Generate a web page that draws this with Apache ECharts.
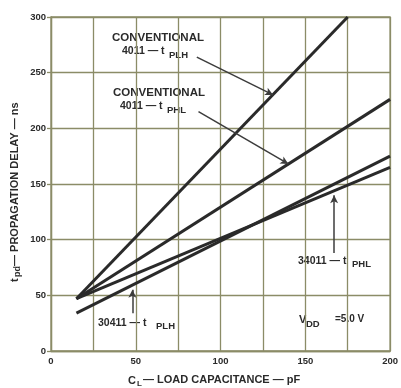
<!DOCTYPE html>
<html>
<head>
<meta charset="utf-8">
<script src="https://cdn.jsdelivr.net/npm/echarts@6/dist/echarts.min.js"></script>
<style>
  html, body { margin: 0; padding: 0; background: #ffffff; }
  #chart { width: 401px; height: 388px; }
</style>
</head>
<body>
<div id="chart"></div>
<script>
// Propagation delay vs. load capacitance, VDD = 5.0 V
// Each series: [load capacitance (pF), delay (ns)]
const conv4011PLH = [[15, 47], [175, 300]];
const conv4011PHL = [[15, 47], [200, 226]];
const mc34011PHL  = [[15, 47], [200, 165]];
const mc30411PLH  = [[15, 34], [200, 175]];

const xTickLabels = [0, 50, 100, 150, 200];
const yTickLabels = [0, 50, 100, 150, 200, 250, 300];

const GRID = '#8b8c67';
const INK = '#2a2a2a';
const LEADER = '#3c3c3c';
const FONT = '"Liberation Sans", Arial, sans-serif';

function text(x, y, s, size, extra) {
  return {
    type: 'text', x: x, y: y, silent: true,
    style: Object.assign({
      text: s, fill: INK, fontSize: size, fontWeight: 'bold',
      fontFamily: FONT, align: 'left', verticalAlign: 'middle'
    }, extra || {})
  };
}

function curve(name, data, arrows) {
  return {
    name: name, type: 'line', data: data,
    symbol: 'none', clip: true, animation: false, silent: true,
    lineStyle: { color: INK, width: 3 },
    markLine: {
      silent: true, animation: false,
      symbol: ['none', 'arrow'], symbolSize: [6, 8],
      label: { show: false },
      lineStyle: { color: LEADER, width: 1.5, type: 'solid' },
      data: arrows.map(a => [{ coord: a[0] }, { coord: a[1] }])
    }
  };
}

const chart = echarts.init(document.getElementById('chart'), null, { renderer: 'canvas' });

chart.setOption({
  animation: false,
  backgroundColor: '#ffffff',
  grid: {
    left: 51, right: 9, top: 17, bottom: 37,
    show: true, borderColor: GRID, borderWidth: 1.3
  },
  xAxis: {
    type: 'value', min: 0, max: 200, interval: 25,
    axisLine: { show: true, lineStyle: { color: GRID, width: 1.3 } },
    axisTick: { show: false },
    splitLine: { show: true, lineStyle: { color: GRID, width: 1.3 } },
    axisLabel: {
      margin: 5, color: INK, fontSize: 9.5, fontWeight: 'bold', fontFamily: FONT,
      formatter: v => (xTickLabels.includes(v) ? String(v) : '')
    }
  },
  yAxis: {
    type: 'value', min: 0, max: 300, interval: 50,
    axisLine: { show: true, lineStyle: { color: GRID, width: 1.3 } },
    axisTick: { show: true, length: 4, lineStyle: { color: GRID, width: 1.3 } },
    splitLine: { show: true, lineStyle: { color: GRID, width: 1.3 } },
    axisLabel: {
      margin: 5, color: INK, fontSize: 9.5, fontWeight: 'bold', fontFamily: FONT,
      formatter: v => (yTickLabels.includes(v) ? String(v) : '')
    }
  },
  series: [
    curve('4011 tPLH', conv4011PLH, [[[86, 264], [131, 230]]]),
    curve('4011 tPHL', conv4011PHL, [[[87, 215], [140, 168]]]),
    curve('34011 tPHL', mc34011PHL, [[[167, 88], [167, 140]]]),
    curve('30411 tPLH', mc30411PLH, [[[48, 34], [48, 55]]])
  ],
  graphic: [
    // curve labels
    text(112, 38, 'CONVENTIONAL', 11.5),
    text(122, 51.5, '4011 — t', 10.5),
    text(169, 55.5, 'PLH', 9.5),
    text(113, 93, 'CONVENTIONAL', 11.5),
    text(120, 106, '4011 — t', 10.5),
    text(167, 110, 'PHL', 9.5),
    text(298, 261, '34011 — t', 10.5),
    text(352, 264.5, 'PHL', 9.5),
    text(98, 323, '30411 — t', 10.5),
    text(156, 326.5, 'PLH', 9.5),
    // supply voltage note
    text(299, 319.5, 'V', 11),
    text(306, 324, 'DD', 9.5),
    text(335, 319.5, '=5.0 V', 10),
    // x-axis title
    text(128, 381, 'C', 11),
    text(137, 384, 'L', 8),
    text(143, 380, '— LOAD CAPACITANCE — pF', 11),
    // y-axis title, reading bottom to top
    {
      type: 'group', x: 15, y: 186, rotation: Math.PI / 2, silent: true,
      children: [
        text(-96, 0, 't', 11),
        text(-91, 3, 'pd', 9),
        text(-80, 0, '— PROPAGATION DELAY — ns', 11)
      ]
    }
  ]
});
</script>
</body>
</html>
